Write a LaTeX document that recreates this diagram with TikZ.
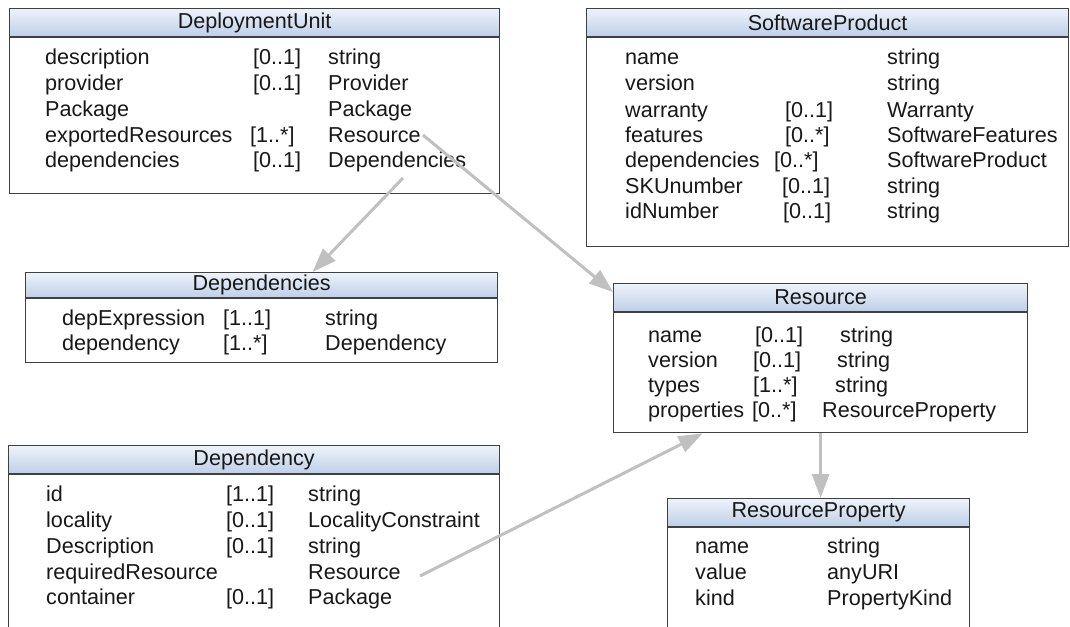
\documentclass[tikz,border=0pt]{standalone}
\usepackage{fontspec}
\setmainfont{Liberation Sans}
\usetikzlibrary{arrows.meta}
\definecolor{headtop}{RGB}{238,243,250}
\definecolor{headbot}{RGB}{190,207,232}
\definecolor{frame}{RGB}{64,64,64}
\definecolor{linkgray}{RGB}{192,192,192}
\definecolor{ink}{RGB}{24,24,24}

\begin{document}
\begin{tikzpicture}[x=1pt, y=-1pt, font=\fontsize{21.6}{26}\selectfont,
  head/.style={draw=frame, line width=1.2pt, top color=headtop,
    bottom color=headbot, anchor=north west, inner sep=0pt, text=ink},
  body/.style={draw=frame, line width=1.2pt, fill=white,
    anchor=north west, inner sep=0pt},
  cell/.style={anchor=base west, inner sep=0pt, text=ink},
  link/.style={draw=linkgray, line width=3pt,
    -{Triangle[length=24pt, width=17pt]}}]
\useasboundingbox (0,0) rectangle (1070,626);

% DeploymentUnit
\node [head, minimum width=490pt, minimum height=28pt] (duhead) at (9,8) {DeploymentUnit};
\node [body, minimum width=490pt, minimum height=156pt] (dubody) at (duhead.south west) {};
\node [cell] (du1) at (45,64) {description}; \node [cell] (du1m) at (253,64) {[0..1]}; \node [cell] (du1t) at (328,64) {string};
\node [cell] (du2) at (45,90) {provider}; \node [cell] (du2m) at (253,90) {[0..1]}; \node [cell] (du2t) at (328,90) {Provider};
\node [cell] (du3) at (45,116) {Package}; \node [cell] (du3t) at (328,116) {Package};
\node [cell] (du4) at (45,142) {exportedResources}; \node [cell] (du4m) at (250,142) {[1..*]}; \node [cell] (du4t) at (328,142) {Resource};
\node [cell] (du5) at (45,167) {dependencies}; \node [cell] (du5m) at (253,167) {[0..1]}; \node [cell] (du5t) at (328,167) {Dependencies};

% SoftwareProduct
\node [head, minimum width=482pt, minimum height=28pt] (sphead) at (586,8) {SoftwareProduct};
\node [body, minimum width=482pt, minimum height=209pt] (spbody) at (sphead.south west) {};
\node [cell] (sp1) at (625,65) {name}; \node [cell] (sp1t) at (887,65) {string};
\node [cell] (sp2) at (625,90) {version}; \node [cell] (sp2t) at (887,90) {string};
\node [cell] (sp3) at (625,117) {warranty}; \node [cell] (sp3m) at (785,117) {[0..1]}; \node [cell] (sp3t) at (887,117) {Warranty};
\node [cell] (sp4) at (625,142) {features}; \node [cell] (sp4m) at (785,142) {[0..*]}; \node [cell] (sp4t) at (887,142) {SoftwareFeatures};
\node [cell] (sp5) at (625,167) {dependencies}; \node [cell] (sp5m) at (774,167) {[0..*]}; \node [cell] (sp5t) at (887,167) {SoftwareProduct};
\node [cell] (sp6) at (625,193) {SKUnumber}; \node [cell] (sp6m) at (782,193) {[0..1]}; \node [cell] (sp6t) at (887,193) {string};
\node [cell] (sp7) at (625,218) {idNumber}; \node [cell] (sp7m) at (783,218) {[0..1]}; \node [cell] (sp7t) at (887,218) {string};

% Dependencies
\node [head, minimum width=472pt, minimum height=25pt] (dshead) at (25,272) {Dependencies};
\node [body, minimum width=472pt, minimum height=64pt] (dsbody) at (dshead.south west) {};
\node [cell] (ds1) at (62,325) {depExpression}; \node [cell] (ds1m) at (223,325) {[1..1]}; \node [cell] (ds1t) at (325,325) {string};
\node [cell] (ds2) at (62,350) {dependency}; \node [cell] (ds2m) at (223,350) {[1..*]}; \node [cell] (ds2t) at (325,350) {Dependency};

% Resource
\node [head, minimum width=414pt, minimum height=28pt] (reshead) at (613,283) {Resource};
\node [body, minimum width=414pt, minimum height=120pt] (resbody) at (reshead.south west) {};
\node [cell] (res1) at (648,342) {name}; \node [cell] (res1m) at (755,342) {[0..1]}; \node [cell] (res1t) at (840,342) {string};
\node [cell] (res2) at (648,367) {version}; \node [cell] (res2m) at (753,367) {[0..1]}; \node [cell] (res2t) at (837,367) {string};
\node [cell] (res3) at (648,392) {types}; \node [cell] (res3m) at (753,392) {[1..*]}; \node [cell] (res3t) at (835,392) {string};
\node [cell] (res4) at (648,417) {properties}; \node [cell] (res4m) at (752,417) {[0..*]}; \node [cell] (res4t) at (822,417) {ResourceProperty};

% Dependency
\node [head, minimum width=491pt, minimum height=28pt] (dphead) at (8,445) {Dependency};
\node [body, minimum width=491pt, minimum height=200pt] (dpbody) at (dphead.south west) {};
\node [cell] (dp1) at (46,501) {id}; \node [cell] (dp1m) at (226,501) {[1..1]}; \node [cell] (dp1t) at (308,501) {string};
\node [cell] (dp2) at (46,527) {locality}; \node [cell] (dp2m) at (226,527) {[0..1]}; \node [cell] (dp2t) at (308,527) {LocalityConstraint};
\node [cell] (dp3) at (46,553) {Description}; \node [cell] (dp3m) at (226,553) {[0..1]}; \node [cell] (dp3t) at (308,553) {string};
\node [cell] (dp4) at (46,579) {requiredResource}; \node [cell] (dp4t) at (308,579) {Resource};
\node [cell] (dp5) at (46,604) {container}; \node [cell] (dp5m) at (226,604) {[0..1]}; \node [cell] (dp5t) at (308,604) {Package};

% ResourceProperty
\node [head, minimum width=302pt, minimum height=28pt] (rphead) at (667,498) {ResourceProperty};
\node [body, minimum width=302pt, minimum height=150pt] (rpbody) at (rphead.south west) {};
\node [cell] (rp1) at (695,553) {name}; \node [cell] (rp1t) at (827,553) {string};
\node [cell] (rp2) at (695,579) {value}; \node [cell] (rp2t) at (827,579) {anyURI};
\node [cell] (rp3) at (695,605) {kind}; \node [cell] (rp3t) at (827,605) {PropertyKind};

% links
\coordinate (duresend) at (423,135);
\coordinate (dudepend) at (403,178);
\coordinate (dpresend) at (420,576);
\draw [link] (duresend) -- ([yshift=-9pt]reshead.north west);
\draw [link] (dudepend) -- ([xshift=51pt]dshead.north);
\draw [link] (dpresend) -- ([xshift=-118pt]resbody.south);
\draw [link] (resbody.south) -- (resbody.south |- rphead.north);
\end{tikzpicture}
\end{document}
